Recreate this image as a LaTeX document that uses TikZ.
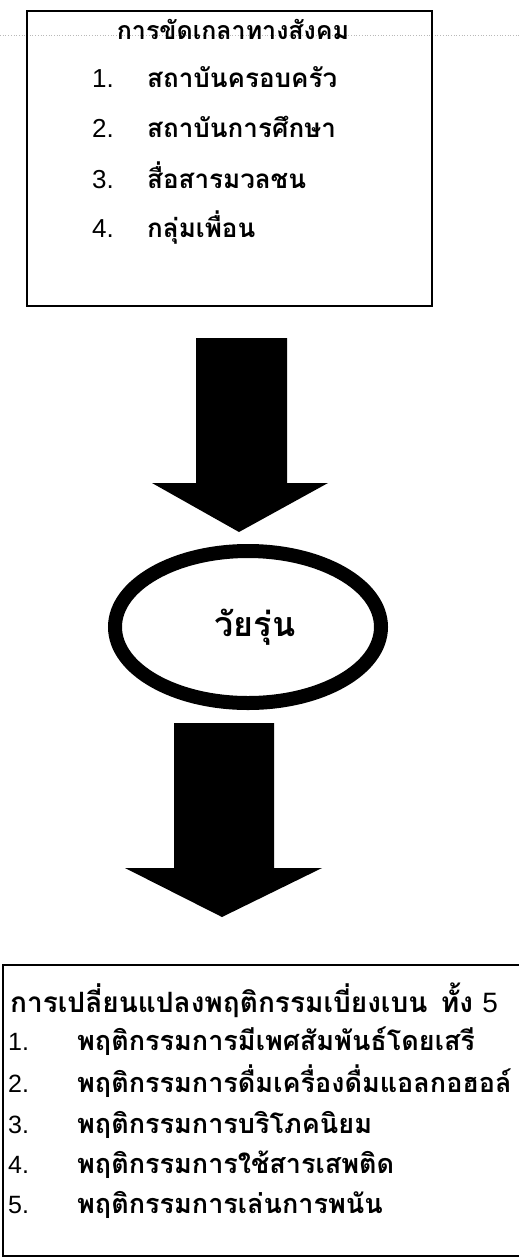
\documentclass[tikz,border=0pt]{standalone}
\usepackage{fontspec}
\setmainfont{Liberation Sans}
\newfontfamily\thaifont[Script=Thai]{Loma}
\usetikzlibrary{shapes.geometric}

\tikzset{
  framebox/.style={draw, line width=1.6pt},
  listnum/.style={anchor=base west, inner sep=0pt, font=\fontsize{26}{26}\selectfont},
  listtext/.style={anchor=base west, inner sep=0pt, font=\thaifont\bfseries\fontsize{26}{26}\selectfont},
  lownum/.style={listnum, font=\fontsize{25}{25}\selectfont},
  lowtext/.style={listtext, font=\thaifont\bfseries\fontsize{27}{27}\selectfont},
  blockarrow/.style={fill=black}
}

\begin{document}
\begin{tikzpicture}[x=1pt, y=-1pt]
  \useasboundingbox (0,0) rectangle (519,1258);
  % scan line behind the top box
  \draw[gray!55, dotted, line width=0.7pt] (0,35) -- (519,35);

  % top box: socialisation
  \node[framebox, anchor=north west, minimum width=405, minimum height=295] (socbox) at (26,10) {};
  \node[listtext, anchor=base, font=\thaifont\bfseries\fontsize{25}{25}\selectfont] (soctitle) at (233,39) {การขัดเกลาทางสังคม};
  \node[listnum] (sn1) at (92,87) {1.};
  \node[listtext] (st1) at (147,87) {สถาบันครอบครัว};
  \node[listnum] (sn2) at (92,137) {2.};
  \node[listtext] (st2) at (147,137) {สถาบันการศึกษา};
  \node[listnum] (sn3) at (92,188) {3.};
  \node[listtext] (st3) at (147,188) {สื่อสารมวลชน};
  \node[listnum] (sn4) at (92,237) {4.};
  \node[listtext] (st4) at (147,237) {กลุ่มเพื่อน};

  % first arrow
  \fill[blockarrow] (196,338) -- (287,338) -- (287,483) -- (328,483) -- (239,532)
    -- (152,483) -- (196,483) -- cycle;

  % teenager
  \node[draw, ellipse, line width=14pt, minimum width=266, minimum height=152,
        font=\thaifont\bfseries\fontsize{34}{34}\selectfont] (teen) at (248,627) {\hspace*{14pt}วัยรุ่น};

  % second arrow
  \fill[blockarrow] (174,723) -- (274,723) -- (274,868) -- (322,868) -- (222,917)
    -- (125,868) -- (174,868) -- cycle;

  % bottom box: deviant behaviour
  \draw[framebox] (530,965) -- (3,965) -- (3,1256) -- (530,1256);
  \node[lowtext, font=\thaifont\bfseries\fontsize{28}{28}\selectfont] (devtitle) at (10,1012) {การเปลี่ยนแปลงพฤติกรรมเบี่ยงเบน\hspace{4pt} ทั้ง {\fontspec{Liberation Sans}\mdseries5}};
  \node[lownum] (dn1) at (8,1050) {1.};
  \node[lowtext] (dt1) at (77,1050) {พฤติกรรมการมีเพศสัมพันธ์โดยเสรี};
  \node[lownum] (dn2) at (8,1092) {2.};
  \node[lowtext] (dt2) at (77,1092) {พฤติกรรมการดื่มเครื่องดื่มแอลกอฮอล์};
  \node[lownum] (dn3) at (8,1133) {3.};
  \node[lowtext] (dt3) at (77,1133) {พฤติกรรมการบริโภคนิยม};
  \node[lownum] (dn4) at (8,1173) {4.};
  \node[lowtext] (dt4) at (77,1173) {พฤติกรรมการใช้สารเสพติด};
  \node[lownum] (dn5) at (8,1213) {5.};
  \node[lowtext] (dt5) at (77,1213) {พฤติกรรมการเล่นการพนัน};
\end{tikzpicture}
\end{document}
